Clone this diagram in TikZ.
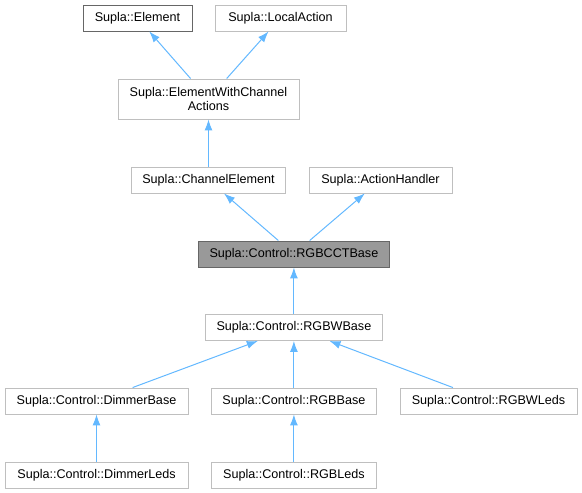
\documentclass[tikz,border=0pt]{standalone}
\usepackage{fontspec}
\setmainfont{Liberation Sans}
\usetikzlibrary{arrows.meta}
\definecolor{boxgray}{HTML}{BFBFBF}
\definecolor{darkgray6}{HTML}{666666}
\definecolor{curfill}{HTML}{999999}
\definecolor{arrowblue}{HTML}{63B8FF}
\begin{document}
\begin{tikzpicture}[x=1pt,y=-1pt,
  box/.style={draw=boxgray, fill=white, line width=0.9pt, rectangle, inner sep=0pt,
    minimum height=26pt, align=center, text=black,
    font=\fontsize{12.6}{14.5}\selectfont},
  linked/.style={draw=darkgray6},
  current/.style={fill=curfill, draw=darkgray6},
  inh/.style={draw=arrowblue, line width=1pt,
    -{Latex[length=11pt,width=8pt,fill=arrowblue]}}
]
\useasboundingbox (0,0) rectangle (582,493);
% nodes
\node[box, linked, minimum width=109pt] (element) at (137.5,18) {Supla::Element};
\node[box, minimum width=131pt] (localaction) at (280.5,18) {Supla::LocalAction};
\node[box, minimum width=181pt, minimum height=40pt] (ewca) at (208.5,99) {Supla::ElementWithChannel\\Actions};
\node[box, minimum width=154pt] (channel) at (208.5,180) {Supla::ChannelElement};
\node[box, minimum width=143pt] (handler) at (380.5,180) {Supla::ActionHandler};
\node[box, current, minimum width=191pt] (rgbcct) at (293.9,254) {Supla::Control::RGBCCTBase};
\node[box, minimum width=177pt] (rgbw) at (293.9,327.5) {Supla::Control::RGBWBase};
\node[box, minimum width=183pt] (dimmer) at (96.5,401) {Supla::Control::DimmerBase};
\node[box, minimum width=165pt] (rgb) at (293.9,401) {Supla::Control::RGBBase};
\node[box, minimum width=177pt] (rgbwleds) at (488.5,401) {Supla::Control::RGBWLeds};
\node[box, minimum width=183pt] (dimmerleds) at (96.5,475) {Supla::Control::DimmerLeds};
\node[box, minimum width=165pt] (rgbleds) at (293.9,475) {Supla::Control::RGBLeds};
% inheritance arrows
\draw[inh] (ewca) -- (element);
\draw[inh] (ewca) -- (localaction);
\draw[inh] (channel) -- (ewca);
\draw[inh] (rgbcct) -- (channel);
\draw[inh] (rgbcct) -- (handler);
\draw[inh] (rgbw) -- (rgbcct);
\draw[inh] (dimmer) -- (rgbw);
\draw[inh] (rgb) -- (rgbw);
\draw[inh] (rgbwleds) -- (rgbw);
\draw[inh] (dimmerleds) -- (dimmer);
\draw[inh] (rgbleds) -- (rgb);
\end{tikzpicture}
\end{document}
